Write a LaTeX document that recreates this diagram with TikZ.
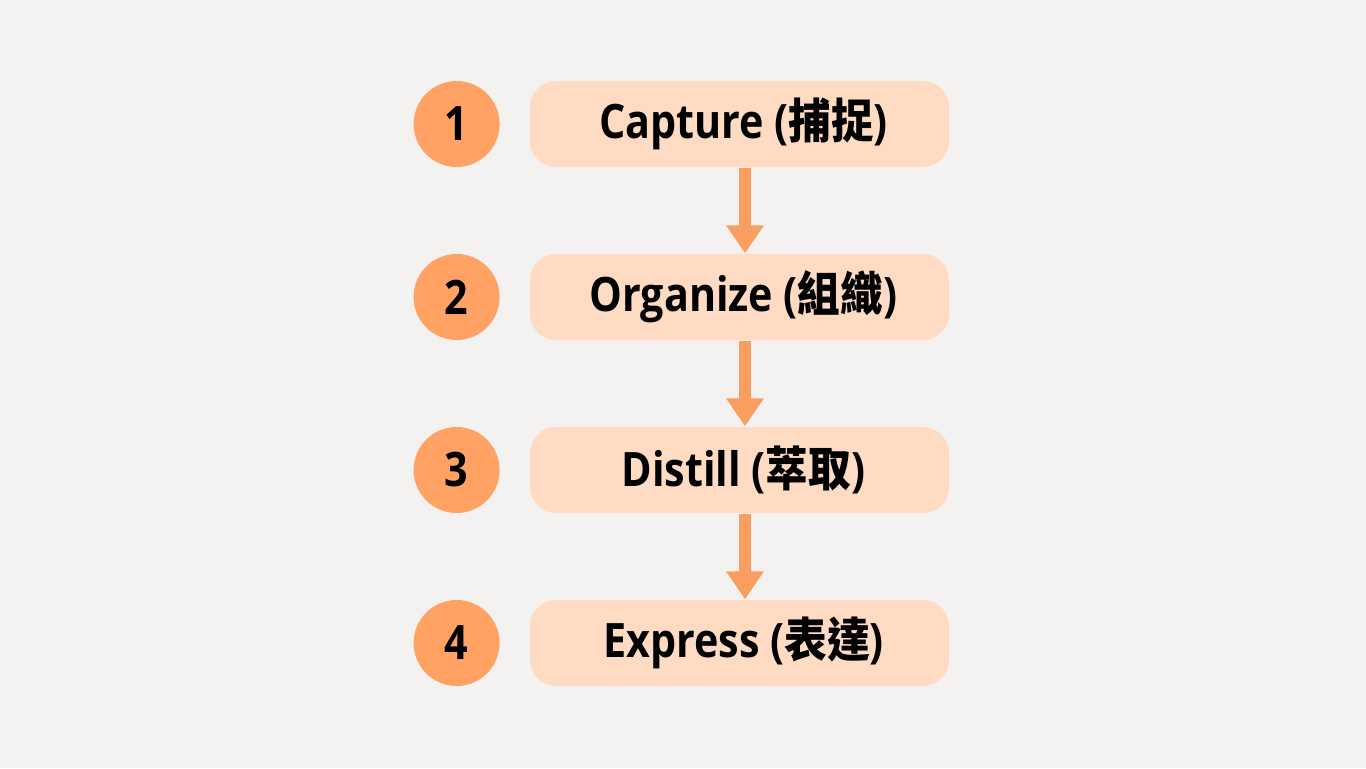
\documentclass[tikz,border=0pt]{standalone}
\usepackage{fontspec}
\setmainfont{Open Sans}[FakeStretch=0.87]
\newfontfamily\cjk{Noto Sans CJK TC}[FakeStretch=0.9]
\usepackage{xcolor}
\usepackage{tikz}
\usetikzlibrary{arrows.meta,positioning}
\definecolor{bgPaper}{HTML}{F3F2F0}
\definecolor{stPeach}{HTML}{FFDBC4}
\definecolor{stOrange}{HTML}{FFA263}
\definecolor{stArrow}{HTML}{FA9E60}

\begin{document}
\begin{tikzpicture}[
  font=\fontsize{13.5}{16}\selectfont\bfseries,
  stage/.style={fill=stPeach,rounded corners=0.26cm,minimum width=4.19cm,minimum height=0.86cm,inner sep=0pt,align=center},
  num/.style={circle,fill=stOrange,minimum size=0.86cm,inner sep=0pt},
  ar/.style={-{Triangle[width=0.36cm,length=0.28cm]},draw=stArrow,line width=0.12cm}]

\fill[bgPaper] (0,0) rectangle (13.66,-7.68);
\useasboundingbox (0,0) rectangle (13.66,-7.68);

\node[stage] (s1) at (7.395,-1.24) {\,Capture ({\cjk 捕捉})};
\node[stage] (s2) at (7.395,-2.97) {\,Organize ({\cjk 組織})};
\node[stage] (s3) at (7.395,-4.70) {\,Distill ({\cjk 萃取})};
\node[stage] (s4) at (7.395,-6.43) {\,Express ({\cjk 表達})};

\node[num,left=0.29cm of s1] (n1) {1};
\node[num,left=0.29cm of s2] (n2) {2};
\node[num,left=0.29cm of s3] (n3) {3};
\node[num,left=0.29cm of s4] (n4) {4};

\draw[ar] ([xshift=0.055cm]s1.south) -- ([xshift=0.055cm]s2.north);
\draw[ar] ([xshift=0.055cm]s2.south) -- ([xshift=0.055cm]s3.north);
\draw[ar] ([xshift=0.055cm]s3.south) -- ([xshift=0.055cm]s4.north);
\end{tikzpicture}
\end{document}
